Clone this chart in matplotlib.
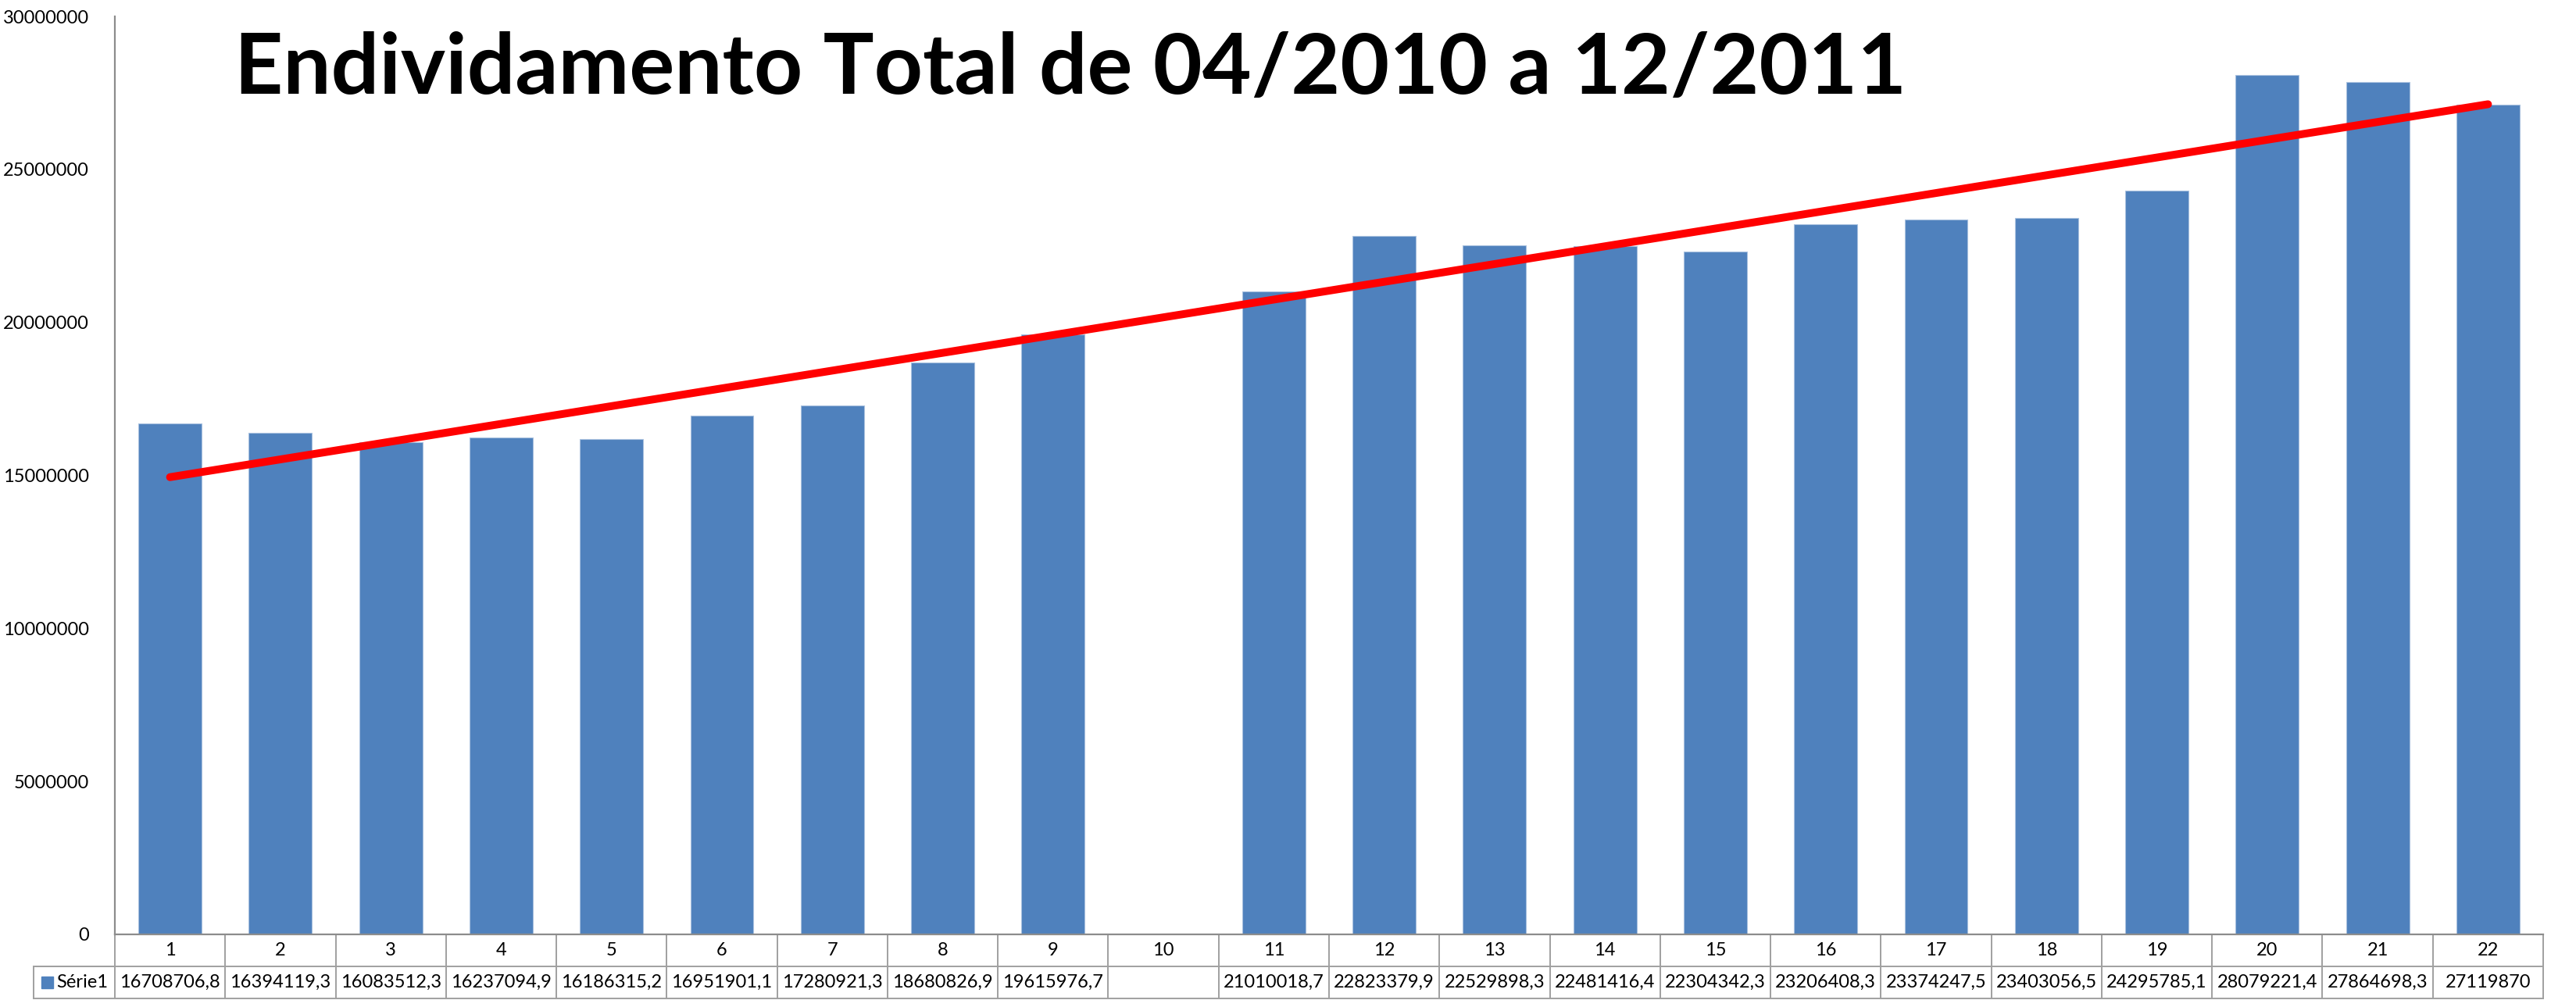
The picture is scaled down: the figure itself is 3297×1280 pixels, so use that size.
import numpy as np
import matplotlib
matplotlib.use('Agg')
import matplotlib.pyplot as plt
from matplotlib.lines import Line2D
from matplotlib.patches import Rectangle

# DADOS
meses = list(range(1, 23))
valores = [16708706.8, 16394119.3, 16083512.3, 16237094.9, 16186315.2,
           16951901.1, 17280921.3, 18680826.9, 19615976.7, np.nan,
           21010018.7, 22823379.9, 22529898.3, 22481416.4, 22304342.3,
           23206408.3, 23374247.5, 23403056.5, 24295785.1, 28079221.4,
           27864698.3, 27119870.0]
serie_nome = 'Série1'
titulo = 'Endividamento Total de 04/2010 a 12/2011'
yticks = [0, 5000000, 10000000, 15000000, 20000000, 25000000, 30000000]
###

plt.rcParams['font.family'] = ['Lato', 'DejaVu Sans']

W, H = 3297, 1280
fig = plt.figure(figsize=(W / 100, H / 100), dpi=100)
ax_l, ax_r, ax_t, ax_b = 147, 3255, 21, 1196
ax = fig.add_axes([ax_l / W, 1 - ax_b / H, (ax_r - ax_l) / W, (ax_b - ax_t) / H])

x = np.array(meses, dtype=float)
y = np.array(valores, dtype=float)

bar_color = '#4F81BD'
ax.bar(x, np.nan_to_num(y), width=0.573, color=bar_color,
       edgecolor='#A9C1DF', linewidth=0.8, zorder=2)

# linha de tendencia (linear, ignora mes sem dado)
ok = ~np.isnan(y)
a, b = np.polyfit(x[ok], y[ok], 1)
xt = np.array([x[0], x[-1]])
ax.plot(xt, a * xt + b, color='#FF0000', linewidth=7.2,
        solid_capstyle='round', zorder=3)

ax.set_xlim(0.5, 22.5)
ax.set_ylim(0, 30000000)
ax.set_yticks(yticks)
ax.set_yticklabels([str(v) for v in yticks])
ax.tick_params(axis='y', length=0, pad=24, labelsize=17)
ax.set_xticks([])

grey = '#8C8C8C'
for s in ['top', 'right']:
    ax.spines[s].set_visible(False)
ax.spines['left'].set_color(grey)
ax.spines['left'].set_linewidth(1.6)
ax.spines['bottom'].set_color(grey)
ax.spines['bottom'].set_linewidth(1.6)

# TABELA DE DADOS
axh = ax_b - ax_t
row_h = 41 / axh
tab_col = '#A0A0A0'
tab_lw = 1.4
xt_ax = ax.get_xaxis_transform()
left_ax = (43 - ax_l) / (ax_r - ax_l)

for xb in np.arange(0.5, 23.0, 1.0):
    ax.add_line(Line2D([xb, xb], [0, -2 * row_h], transform=xt_ax,
                       color=tab_col, lw=tab_lw, clip_on=False))
for yy in [-row_h, -2 * row_h]:
    ax.add_line(Line2D([left_ax, 1], [yy, yy], transform=ax.transAxes,
                       color=tab_col, lw=tab_lw, clip_on=False))
ax.add_line(Line2D([left_ax, 0], [-row_h, -row_h], transform=ax.transAxes,
                   color=tab_col, lw=tab_lw, clip_on=False))
ax.add_line(Line2D([left_ax, left_ax], [-row_h, -2 * row_h], transform=ax.transAxes,
                   color=tab_col, lw=tab_lw, clip_on=False))

for m, v in zip(meses, valores):
    ax.text(m, -0.5 * row_h, str(m), transform=xt_ax, ha='center',
            va='center', fontsize=17, clip_on=False)
    if not np.isnan(v):
        txt = f'{v:.1f}'
        if txt.endswith('.0'):
            txt = txt[:-2]
        ax.text(m, -1.5 * row_h, txt.replace('.', ','), transform=xt_ax,
                ha='center', va='center', fontsize=17, clip_on=False)

# legenda dentro da tabela
sq = 15
ax.add_patch(Rectangle(((53 - ax_l) / (ax_r - ax_l), -1.5 * row_h - (sq / 2) / axh),
                       sq / (ax_r - ax_l), sq / axh, transform=ax.transAxes,
                       color=bar_color, clip_on=False))
ax.text((72 - ax_l) / (ax_r - ax_l), -1.5 * row_h, serie_nome, transform=ax.transAxes,
        ha='left', va='center', fontsize=17, clip_on=False)

# TITULO
t = fig.text(300 / W, 1 - 120 / H, titulo, fontsize=80, fontweight='bold',
             ha='left', va='baseline')
fig.canvas.draw()
w = t.get_window_extent().width
t.set_fontsize(80 * 2139 / w)

fig.savefig('out.png', dpi=100, facecolor='white')
